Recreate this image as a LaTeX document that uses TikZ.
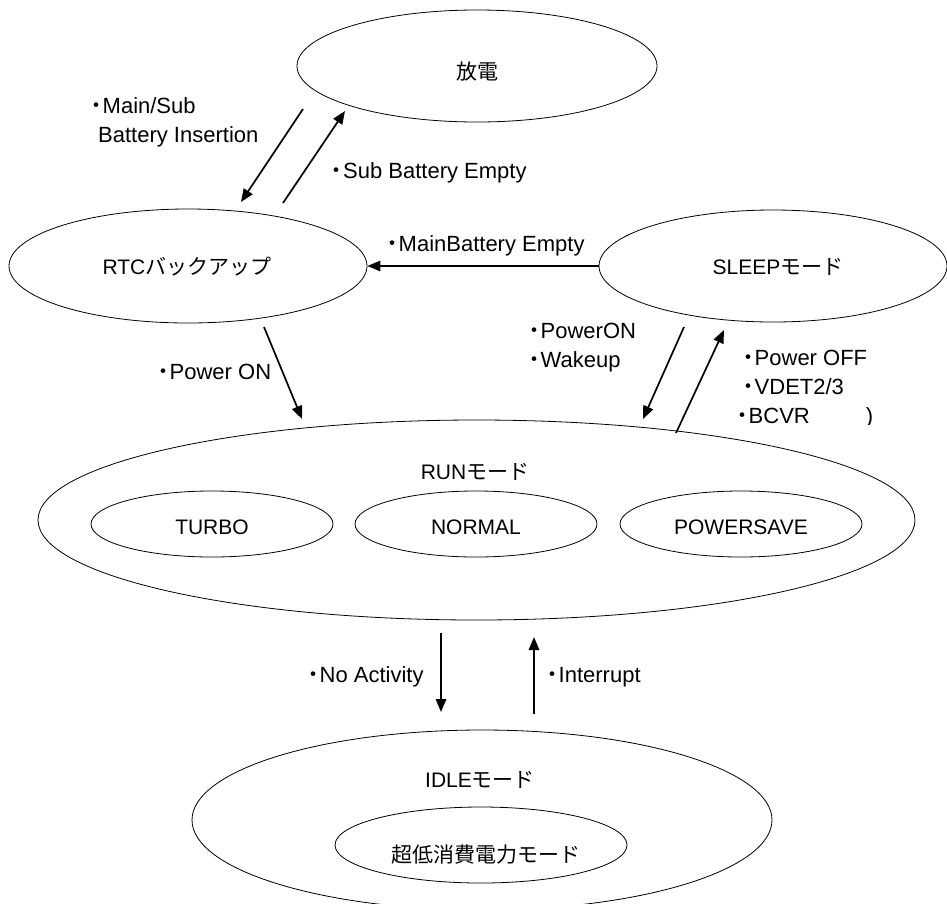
\documentclass[tikz,border=0pt]{standalone}
\usepackage{fontspec}
\setmainfont{Liberation Sans}
\newfontfamily\jp{Noto Sans CJK JP}
\usetikzlibrary{shapes.geometric,arrows.meta}

\newcommand{\bul}{\makebox[13pt][c]{\jp ・}}

\tikzset{
  state/.style={draw, ellipse, line width=0.8pt, inner sep=0pt},
  statetext/.style={inner sep=0pt, font=\fontsize{21}{25}\selectfont},
  cond/.style={inner sep=0pt, anchor=west, align=left, font=\fontsize{22}{29}\selectfont},
  trans/.style={-{Triangle[length=13pt,width=10.5pt]}, line width=1.7pt},
}

\begin{document}
\begin{tikzpicture}[x=1pt,y=-1pt]

      \clip (0,0) rectangle (947,903);

      % Define nodes
      \node[state, minimum width=360pt, minimum height=112pt] (hoden) at (477,66) {};
      \node[statetext] (hoden-txt) at (477,72) {\jp 放電};
      \node[state, minimum width=358pt, minimum height=114pt] (rtc) at (188,266) {};
      \node[statetext] (rtc-txt) at (187,267) {RTC{\jp バックアップ}};
      \node[state, minimum width=348pt, minimum height=112pt] (sleep) at (773,266) {};
      \node[statetext] (sleep-txt) at (778,267) {SLEEP{\jp モード}};
      \node[state, minimum width=877pt, minimum height=200pt] (run) at (476.5,520) {};
      \node[statetext] (run-txt) at (475,472) {RUN{\jp モード}};
      \node[state, minimum width=242pt, minimum height=66pt] (turbo) at (212,524) {};
      \node[statetext] (turbo-txt) at (212,527) {TURBO};
      \node[state, minimum width=242pt, minimum height=66pt] (normal) at (476,524) {};
      \node[statetext] (normal-txt) at (476,527) {NORMAL};
      \node[state, minimum width=242pt, minimum height=66pt] (powersave) at (741,524) {};
      \node[statetext] (powersave-txt) at (741,527) {POWERSAVE};
      \node[state, minimum width=580pt, minimum height=180pt] (idle) at (482,820) {};
      \node[statetext] (idle-txt) at (480,780) {IDLE{\jp モード}};
      \node[state, minimum width=292pt, minimum height=76pt] (ulp) at (481,845) {};
      \node[statetext] (ulp-txt) at (486,855) {\jp 超低消費電力モード};

      % Labels
      \node[cond] (insert-lbl) at (89.5,122.5) {\bul Main/Sub\\\hspace*{8.5pt}Battery Insertion};
      \node[cond] (subempty-lbl) at (330,173) {\bul Sub Battery Empty};
      \node[cond] (mainempty-lbl) at (385.5,246) {\bul MainBattery Empty};
      \node[cond] (poweron-lbl) at (156.5,372) {\bul Power ON};
      \node[cond] (wakeup-lbl) at (527.5,347.5) {\bul PowerON\\\bul Wakeup};
      \node[cond] (poweroff-lbl) at (741.5,372.5) {\bul Power OFF\\\bul VDET2/3};
      \begin{scope}
        \clip (700,400) rectangle (900,424);
        \node[cond] (bcvr-lbl) at (735.5,418) {\bul BCVR\hspace{56pt})};
      \end{scope}
      \node[cond] (noact-lbl) at (306.5,677) {\bul No Activity};
      \node[cond] (irq-lbl) at (545.5,677) {\bul Interrupt};

      % Arrow ends
      \coordinate (h2r-a) at (303,109);  \coordinate (h2r-b) at (241,202);
      \coordinate (r2h-a) at (283,203);  \coordinate (r2h-b) at (345,111);
      \coordinate (r2u-a) at (264,327);  \coordinate (r2u-b) at (302,419);
      \coordinate (s2u-a) at (684,327);  \coordinate (s2u-b) at (643,419);
      \coordinate (u2s-a) at (676,433);  \coordinate (u2s-b) at (724,330);
      \coordinate (u2i-a) at (441,633);  \coordinate (u2i-b) at (441,712);
      \coordinate (i2u-a) at (534,714);  \coordinate (i2u-b) at (534,637);

      % Connect the nodes
      \draw[trans] (h2r-a) -- (h2r-b);
      \draw[trans] (r2h-a) -- (r2h-b);
      \draw[trans] (sleep.west) -- (sleep.west -| rtc.east);
      \draw[trans] (r2u-a) -- (r2u-b);
      \draw[trans] (s2u-a) -- (s2u-b);
      \draw[trans] (u2s-a) -- (u2s-b);
      \draw[trans] (u2i-a) -- (u2i-b);
      \draw[trans] (i2u-a) -- (i2u-b);

\end{tikzpicture}
\end{document}
